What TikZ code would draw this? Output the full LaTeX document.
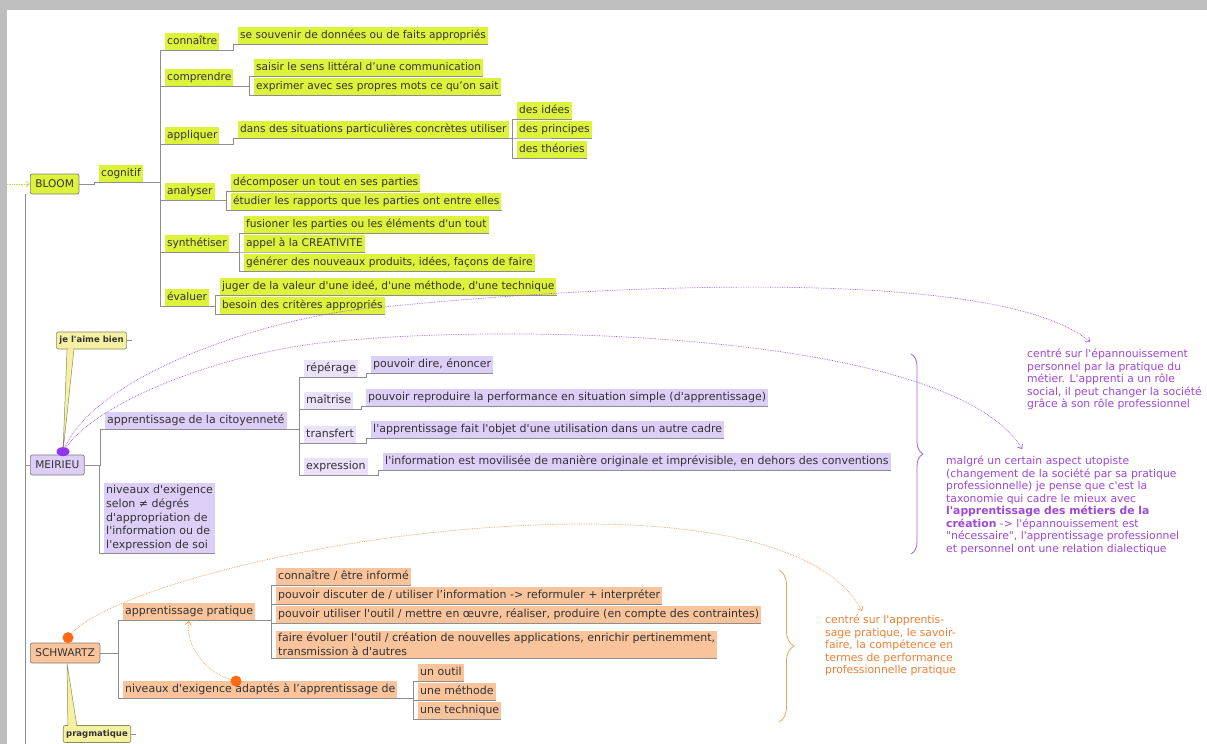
\documentclass[tikz,border=0pt]{standalone}
\usepackage{fontspec}
\setmainfont{DejaVu Sans}[Ligatures=TeXOff]
\usetikzlibrary{arrows.meta, shapes.geometric, decorations.pathreplacing}
\definecolor{FrameGray}{HTML}{BEBEBE}
\definecolor{TextGray}{HTML}{333333}
\definecolor{BranchGray}{HTML}{8E8E8E}
\definecolor{BoxBorder}{HTML}{7D7D7D}
\definecolor{BloomGreen}{HTML}{DDF23B}
\definecolor{BloomArrow}{HTML}{C5DD3A}
\definecolor{MeirieuLilac}{HTML}{DCCEF6}
\definecolor{SchwartzPeach}{HTML}{F9C49B}
\definecolor{CalloutYellow}{HTML}{F6F1A2}
\definecolor{CalloutBorder}{HTML}{8C8A5C}
\definecolor{NotePurple}{HTML}{A047D6}
\definecolor{LinkPurple}{HTML}{A855F0}
\definecolor{BracePurple}{HTML}{A763DA}
\definecolor{DotPurple}{HTML}{8F36EE}
\definecolor{NoteOrange}{HTML}{EE7F35}
\definecolor{LinkOrange}{HTML}{F29A50}
\definecolor{BraceOrange}{HTML}{F2A35C}
\definecolor{DotOrange}{HTML}{FF6A10}

\newcommand{\mmfont}{\fontsize{10.6}{13.7}\selectfont}
\newcommand{\mmwidefont}{\fontsize{11}{13.7}\selectfont}
\newcommand{\mmnotefont}{\fontsize{10.8}{12.5}\selectfont}
\newcommand{\mmcalloutfont}{\fontsize{8.5}{10}\selectfont\bfseries}
% mind map branch: parent underline -> spine -> child underline
\newcommand{\mmlink}[2]{%
  \path ([xshift=-5pt]#2.south west) coordinate (spine);
  \draw[branch] (#1) -- (#1 -| spine) -- (spine) -- (#2.south east);}

\begin{document}
\begin{tikzpicture}[x=1pt, y=-1pt,
    topic/.style={anchor=south west, inner xsep=2pt, inner ysep=2.5pt, text height=8.5pt, text depth=3pt, font=\mmfont, text=TextGray},
    bloom/.style={topic, fill=BloomGreen},
    meirieu/.style={topic, fill=MeirieuLilac, font=\mmwidefont},
    schwartz/.style={topic, fill=SchwartzPeach, font=\mmwidefont},
    multi/.style={anchor=south west, inner xsep=2pt, inner ysep=2pt, align=left, font=\mmwidefont, text=TextGray},
    rootbox/.style={anchor=west, draw=BoxBorder, rounded corners=2pt, line width=0.7pt, inner xsep=5pt, minimum height=20pt, font=\mmfont, text=TextGray},
    callout/.style={draw=CalloutBorder, fill=CalloutYellow, rounded corners=2pt, line width=0.6pt, inner xsep=3pt, minimum height=17pt, font=\mmcalloutfont, text=TextGray},
    tail/.style={draw=CalloutBorder, fill=CalloutYellow, line width=0.5pt},
    branch/.style={draw=BranchGray, line width=0.6pt},
    note/.style={anchor=north west, align=left, inner sep=0pt, font=\mmnotefont},
    dotlink/.style={densely dotted, line width=0.7pt, -{Straight Barb[length=3.5pt,width=6pt]}},
    notebrace/.style={decorate, decoration={brace, amplitude=#1}, line width=0.8pt},
    knob/.style={circle, inner sep=0pt, minimum size=11pt}
]
\useasboundingbox (0,0) rectangle (1207,744);
% frame
\fill[white] (0,0) rectangle (1207,744);
\fill[FrameGray] (0,0) rectangle (1207,10);
\fill[FrameGray] (0,0) rectangle (7,744);

% BLOOM
\node[rootbox, fill=BloomGreen] (bloomroot) at (30,184) {BLOOM};
\node[bloom] (bcog) at (99,182) {cognitif};
\node[bloom] (bconn) at (165,50) {connaître};
\node[bloom] (bconn1) at (238,44) {se souvenir de données ou de faits appropriés};
\node[bloom] (bcomp) at (165,86) {comprendre};
\node[bloom] (bcomp1) at (254,76) {saisir le sens littéral d’une communication};
\node[bloom] (bcomp2) at (254,95) {exprimer avec ses propres mots ce qu’on sait};
\node[bloom] (bappl) at (165,144) {appliquer};
\node[bloom] (bappl1) at (238,138) {dans des situations particulières concrètes utiliser};
\node[bloom] (bidee) at (517,119) {des idées};
\node[bloom] (bprin) at (517,138) {des principes};
\node[bloom] (btheo) at (517,158) {des théories};
\node[bloom] (banal) at (165,200) {analyser};
\node[bloom] (banal1) at (231,191) {décomposer un tout en ses parties};
\node[bloom] (banal2) at (231,210) {étudier les rapports que les parties ont entre elles};
\node[bloom] (bsynt) at (165,252) {synthétiser};
\node[bloom] (bsynt1) at (244,233) {fusioner les parties ou les éléments d'un tout};
\node[bloom] (bsynt2) at (244,252) {appel à la CREATIVITE};
\node[bloom] (bsynt3) at (244,271) {générer des nouveaux produits, idées, façons de faire};
\node[bloom] (beval) at (165,306) {évaluer};
\node[bloom] (beval1) at (220,295) {juger de la valeur d'une ideé, d'une méthode, d'une technique};
\node[bloom] (beval2) at (220,314) {besoin des critères appropriés};

% MEIRIEU
\node[rootbox, fill=MeirieuLilac] (meirieuroot) at (30,465) {MEIRIEU};
\node[meirieu] (mcit) at (105,429) {apprentissage de la citoyenneté};
\node[multi, fill=MeirieuLilac] (mniv) at (104,553) {niveaux d'exigence\\selon ≠ dégrés\\d'appropriation de\\l'information ou de\\l'expression de soi};
\node[meirieu, fill=MeirieuLilac!60] (mrep) at (304,377) {répérage};
\node[meirieu] (mrep1) at (371,373) {pouvoir dire, énoncer};
\node[meirieu, fill=MeirieuLilac!60] (mmai) at (304,409) {maîtrise};
\node[meirieu] (mmai1) at (366,406) {pouvoir reproduire la performance en situation simple (d'apprentissage)};
\node[meirieu, fill=MeirieuLilac!60] (mtra) at (304,443) {transfert};
\node[meirieu] (mtra1) at (371,438) {l'apprentissage fait l'objet d'une utilisation dans un autre cadre};
\node[meirieu, fill=MeirieuLilac!60] (mexp) at (304,475) {expression};
\node[meirieu] (mexp1) at (383,470) {l'information est movilisée de manière originale et imprévisible, en dehors des conventions};

% SCHWARTZ
\node[rootbox, fill=SchwartzPeach] (schwartzroot) at (30,653) {SCHWARTZ};
\node[schwartz] (sprat) at (123,620) {apprentissage pratique};
\node[schwartz] (sniv) at (123,698) {niveaux d'exigence adaptés à l’apprentissage de};
\node[schwartz] (sprat1) at (276,585) {connaître / être informé};
\node[schwartz] (sprat2) at (276,604) {pouvoir discuter de / utiliser l’information -> reformuler + interpréter};
\node[schwartz] (sprat3) at (276,623) {pouvoir utiliser l'outil / mettre en œuvre, réaliser, produire (en compte des contraintes)};
\node[multi, fill=SchwartzPeach, font=\fontsize{11}{14}\selectfont] (sprat4) at (276,658) {faire évoluer l'outil / création de nouvelles applications, enrichir pertinemment,\\transmission à d'autres};
\node[schwartz] (sniv1) at (418,681) {un outil};
\node[schwartz] (sniv2) at (418,700) {une méthode};
\node[schwartz] (sniv3) at (418,719) {une technique};

% branches
\coordinate (spineend) at (25,744);
\draw[branch] ([xshift=-5pt]bloomroot.south west) -- (spineend);
\draw[branch] (meirieuroot.west) -- (meirieuroot.west -| spineend);
\mmlink{bloomroot.east}{bcog}
\foreach \c in {bconn,bcomp,bappl,banal,bsynt,beval} {\mmlink{bcog.south east}{\c}}
\mmlink{bconn.south east}{bconn1}
\foreach \c in {bcomp1,bcomp2} {\mmlink{bcomp.south east}{\c}}
\mmlink{bappl.south east}{bappl1}
\foreach \c in {bidee,bprin,btheo} {\mmlink{bappl1.south east}{\c}}
\foreach \c in {banal1,banal2} {\mmlink{banal.south east}{\c}}
\foreach \c in {bsynt1,bsynt2,bsynt3} {\mmlink{bsynt.south east}{\c}}
\foreach \c in {beval1,beval2} {\mmlink{beval.south east}{\c}}
\foreach \c in {mcit,mniv} {\mmlink{meirieuroot.east}{\c}}
\foreach \c in {mrep,mmai,mtra,mexp} {\mmlink{mcit.south east}{\c}}
\mmlink{mrep.south east}{mrep1}
\mmlink{mmai.south east}{mmai1}
\mmlink{mtra.south east}{mtra1}
\mmlink{mexp.south east}{mexp1}
\foreach \c in {sprat,sniv} {\mmlink{schwartzroot.east}{\c}}
\foreach \c in {sprat1,sprat2,sprat3,sprat4} {\mmlink{sprat.south east}{\c}}
\foreach \c in {sniv1,sniv2,sniv3} {\mmlink{sniv.south east}{\c}}

% callouts
\node[callout] (jaime) at (91.5,340.5) {je l'aime bien};
\node[callout] (pragma) at (97,734) {pragmatique};
\draw[branch] (jaime.east) -- ++(5,0);
\draw[branch] (pragma.east) -- ++(5,0);
\filldraw[tail] ([xshift=11pt,yshift=1pt]jaime.south west) -- ([xshift=33pt,yshift=3pt]meirieuroot.north west) -- ([xshift=18pt,yshift=1pt]jaime.south west);
\filldraw[tail] ([xshift=5pt,yshift=-1pt]pragma.north west) -- ([xshift=37pt]schwartzroot.south west) -- ([xshift=14pt,yshift=-1pt]pragma.north west);

% comments
\node[note, text=NotePurple] (pnote1) at (1027,349) {centré sur l'épannouissement\\personnel par la pratique du\\métier. L'apprenti a un rôle\\social, il peut changer la société\\grâce à son rôle professionnel};
\node[note, text=NotePurple] (pnote2) at (946,456) {malgré un certain aspect utopiste\\(changement de la société par sa pratique\\professionnelle) je pense que c'est la\\taxonomie qui cadre le mieux avec\\\textbf{l'apprentissage des métiers de la}\\\textbf{création} -> l'épannouissement est\\"nécessaire", l'apprentissage professionnel\\et personnel ont une relation dialectique};
\node[note, text=NoteOrange] (onote) at (825,615) {centré sur l'apprentis-\\sage pratique, le savoir-\\faire, la compétence en\\termes de performance\\professionnelle pratique};

% braces
\coordinate (mbtop) at (911,354);
\coordinate (mbbot) at (911,554);
\coordinate (sbtop) at (779,570);
\coordinate (sbbot) at (779,722);
\draw[BracePurple, notebrace=12pt] (mbtop) -- (mbbot);
\draw[BraceOrange, notebrace=15pt] (sbtop) -- (sbbot);

% dotted relations
\coordinate (bloomfeed) at (7,184);
\coordinate (tipA) at (1090,342);
\coordinate (tipB) at (1022,449);
\coordinate (tipC) at (862,611);
\node[knob, ellipse, minimum width=13pt, minimum height=9pt, fill=DotPurple] (mdot) at ([xshift=33pt,yshift=3pt]meirieuroot.north west) {};
\node[knob, fill=DotOrange] (sdot) at ([xshift=38pt,yshift=5pt]schwartzroot.north west) {};
\node[knob, fill=DotOrange] (sdot2) at ([xshift=113pt]sniv.north west) {};
\draw[dotlink, BloomArrow] (bloomfeed) -- (bloomroot.west);
\draw[dotlink, LinkPurple] (mdot) .. controls (100,370) and (283,313) .. (383,307) .. controls (600,285) and (1000,265) .. (tipA);
\draw[dotlink, LinkPurple] (mdot) .. controls (100,400) and (220,355) .. (320,343) .. controls (500,322) and (950,330) .. (tipB);
\draw[dotlink, LinkOrange] (sdot) .. controls (110,590) and (350,524) .. (586,524) .. controls (720,524) and (830,550) .. (tipC);
\draw[dotlink, LinkOrange, shorten >=1pt] (sdot2) .. controls (205,672) and (185,645) .. (sprat.south);
\end{tikzpicture}
\end{document}
